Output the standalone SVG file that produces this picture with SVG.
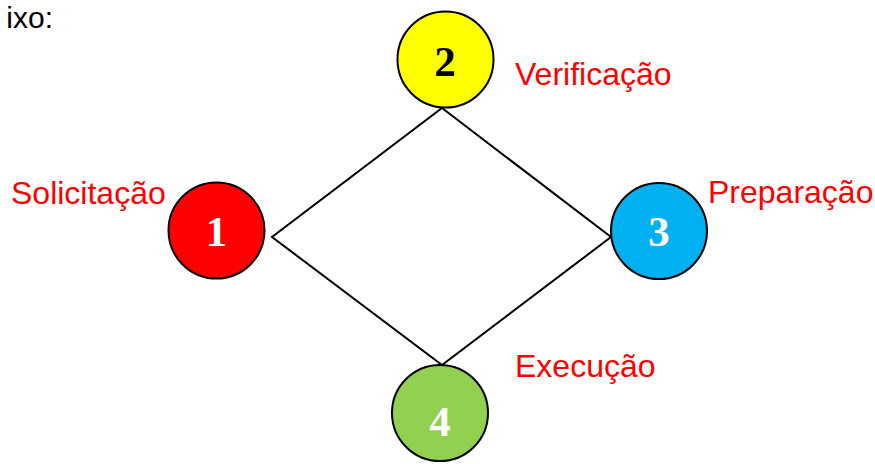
<svg xmlns="http://www.w3.org/2000/svg" width="875" height="464" viewBox="0 0 875 464">
<style>
.lbl{font-family:"Liberation Sans",Arial,sans-serif;font-size:32px;fill:#ff0000}
.num{font-family:"Liberation Serif","Times New Roman",serif;font-size:43px;font-weight:bold;text-anchor:middle}
.c{stroke:#000;stroke-width:2}
</style>
<rect width="875" height="464" fill="#fff"/>
<text x="53" y="28" font-family="Liberation Sans,Arial,sans-serif" font-size="30" text-anchor="end" fill="#000">ixo:</text>
<g id="connectors">
<polygon points="442,108 611,237 442,365 272,237" fill="none" stroke="#000" stroke-width="2"/>
</g>
<g id="node1">
<circle class="c" cx="216.5" cy="230.5" r="48" fill="#ff0000"/>
<text class="num" x="216.5" y="246" fill="#fff">1</text>
<text class="lbl" x="11" y="204">Solicitação</text>
</g>
<g id="node2">
<circle class="c" cx="445.5" cy="59.5" r="48" fill="#ffff00"/>
<text class="num" x="445" y="76" fill="#000">2</text>
<text class="lbl" x="515" y="85">Verificação</text>
</g>
<g id="node3">
<circle class="c" cx="659" cy="231" r="48" fill="#00b0f0"/>
<text class="num" x="659" y="246" fill="#fff">3</text>
<text class="lbl" x="708" y="203">Preparação</text>
</g>
<g id="node4">
<circle class="c" cx="440" cy="413" r="48" fill="#92d050"/>
<text class="num" x="440" y="436" fill="#fff">4</text>
<text class="lbl" x="515" y="377">Execução</text>
</g>
<text x="540" y="479" font-family="Liberation Serif,serif" font-size="22" fill="#000">56</text>
</svg>
